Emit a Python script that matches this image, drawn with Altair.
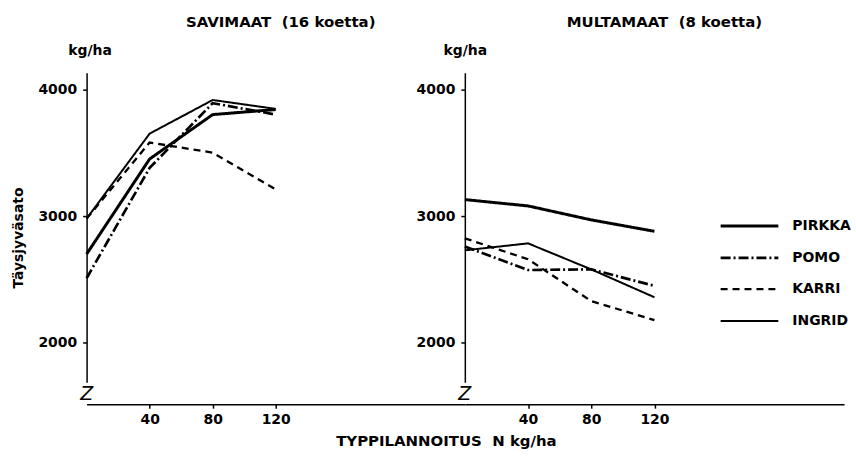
import altair as alt
import pandas as pd

# ---------------- data ----------------
N_LEVELS = [0, 40, 80, 120]
VARIETIES = ["PIRKKA", "POMO", "KARRI", "INGRID"]

SAVI_PIRKKA = [2700, 3450, 3800, 3840]
SAVI_POMO = [2510, 3380, 3890, 3800]
SAVI_KARRI = [2980, 3580, 3500, 3210]
SAVI_INGRID = [2980, 3650, 3915, 3845]

MULTA_PIRKKA = [3130, 3080, 2970, 2880]
MULTA_POMO = [2760, 2575, 2580, 2450]
MULTA_KARRI = [2825, 2660, 2330, 2180]
MULTA_INGRID = [2730, 2785, 2580, 2360]

Y_TICKS = [2000, 3000, 4000]
X_TICKS = [40, 80, 120]

TITLE_SAVI = "SAVIMAAT\u00a0\u00a0(16 koetta)"
TITLE_MULTA = "MULTAMAAT\u00a0\u00a0(8 koetta)"
Y_UNIT = "kg/ha"
Y_TITLE = "Täysjyväsato"
X_TITLE = "TYPPILANNOITUS\u00a0\u00a0N kg/ha"
BREAK_MARK = "Z"

FONT = "DejaVu Sans"


def long_table(series):
    rows = []
    for var, vals in zip(VARIETIES, series):
        for n, v in zip(N_LEVELS, vals):
            rows.append({"lajike": var, "N": n, "sato": v})
    return pd.DataFrame(rows)


savi_df = long_table([SAVI_PIRKKA, SAVI_POMO, SAVI_KARRI, SAVI_INGRID])
multa_df = long_table([MULTA_PIRKKA, MULTA_POMO, MULTA_KARRI, MULTA_INGRID])

H = 311
DASHES = [[1, 0], [10, 3, 2, 3], [7, 5], [1, 0]]
WIDTHS = [3.0, 2.0, 1.6, 1.1]


def panel(df, width, title, title_dx, show_legend, x_title, ytitle_x):
    if show_legend:
        leg = alt.Legend(
            title=None, orient="none", legendX=248, legendY=145,
            symbolType="M0,0H8", symbolSize=210, symbolStrokeColor="black",
            labelFont=FONT, labelFontSize=14, labelFontWeight="bold",
            labelColor="black", labelOffset=63, rowPadding=16,
        )
    else:
        leg = None
    xaxis_kw = dict(
        values=X_TICKS, format="d", offset=22, tickSize=4, tickWidth=1.5,
        domainWidth=1.5, domainColor="black", tickColor="black",
        labelFont=FONT, labelFontSize=14, labelFontWeight="bold",
        labelColor="black", labelPadding=4, grid=False,
    )
    if x_title:
        xaxis_kw.update(
            title=x_title, titleFont=FONT, titleFontSize=15,
            titleFontWeight="bold", titleColor="black",
            titleX=361, titleY=37, titleAlign="center",
            titleBaseline="middle", titleAnchor="start",
        )
    else:
        xaxis_kw.update(title=None)

    lines = alt.Chart(df).mark_line(color="black", strokeCap="butt").encode(
        x=alt.X("N:Q", scale=alt.Scale(domain=[0, 240], nice=False, zero=False),
                axis=alt.Axis(**xaxis_kw)),
        y=alt.Y("sato:Q", scale=alt.Scale(domain=[1690, 4130], nice=False, zero=False),
                axis=alt.Axis(
                    values=Y_TICKS, format="d", tickSize=4, tickWidth=1.5,
                    domainWidth=1.5, domainColor="black", tickColor="black",
                    labelFont=FONT, labelFontSize=14, labelFontWeight="bold",
                    labelColor="black", labelPadding=6, grid=False,
                    title=Y_UNIT, titleAngle=0, titleAlign="left",
                    titleBaseline="middle", titleX=ytitle_x, titleY=-22,
                    titleFont=FONT, titleFontSize=14, titleFontWeight="bold",
                    titleColor="black",
                )),
        strokeDash=alt.StrokeDash("lajike:N", sort=VARIETIES,
                                  scale=alt.Scale(domain=VARIETIES, range=DASHES),
                                  legend=leg),
        strokeWidth=alt.StrokeWidth("lajike:N", sort=VARIETIES,
                                    scale=alt.Scale(domain=VARIETIES, range=WIDTHS),
                                    legend=leg),
    )
    zmark = alt.Chart(pd.DataFrame({"z": [BREAK_MARK]})).mark_text(
        font=FONT, fontSize=19, fontStyle="italic", color="black",
        baseline="middle", align="center",
    ).encode(x=alt.value(0), y=alt.value(H + 12), text="z:N")
    layers = [lines, zmark]
    return alt.layer(*layers).properties(
        width=width, height=H,
        title=alt.TitleParams(title, font=FONT, fontSize=15, fontWeight="bold",
                              color="black", offset=14, dx=title_dx),
    )


left = panel(savi_df, 380, TITLE_SAVI, 5, False, X_TITLE, -19)
ylab = alt.Chart(pd.DataFrame({"t": [Y_TITLE]})).mark_text(
    font=FONT, fontSize=14, fontWeight="bold", color="black", angle=270,
    baseline="middle", align="center",
).encode(x=alt.value(-68), y=alt.value(166), text="t:N")
left = alt.layer(left, ylab)

right = panel(multa_df, 381, TITLE_MULTA, 10, True, None, -22)

chart = alt.hconcat(left, right, spacing=0, bounds="flush").resolve_scale(
    strokeDash="independent", strokeWidth="independent"
).resolve_legend(strokeDash="independent", strokeWidth="independent").configure_view(
    stroke=None
).properties(
    background="white",
    padding={"left": 12, "top": 14, "right": 5, "bottom": 5},
)

chart.save("out.html", embed_options={"renderer": "svg", "actions": False})
